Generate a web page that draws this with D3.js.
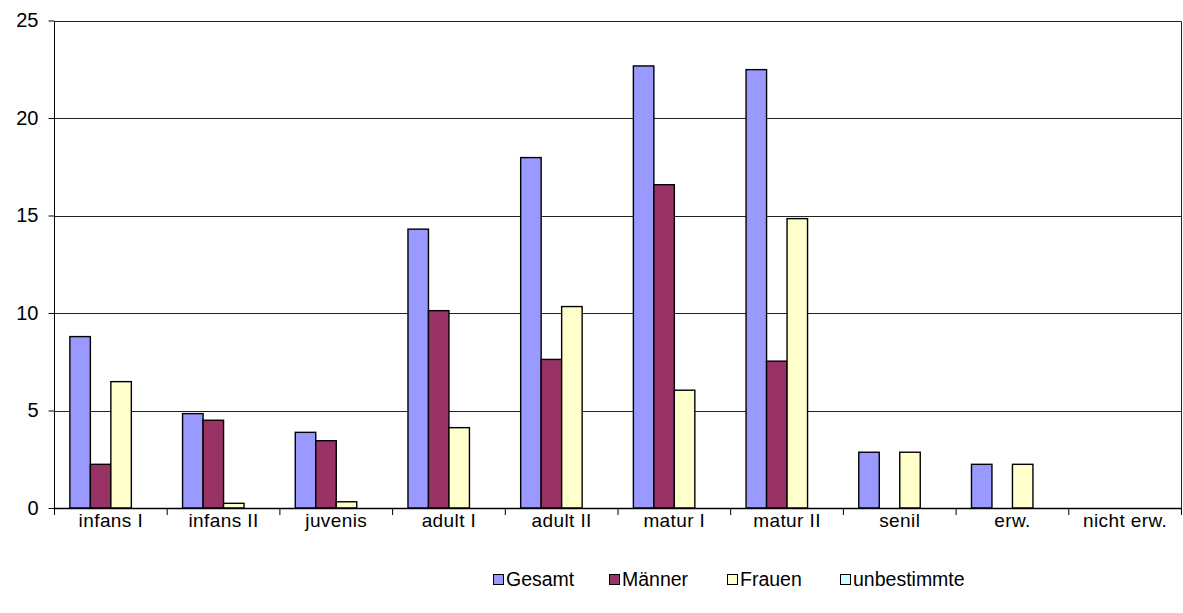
<!DOCTYPE html>
<html>
<head>
<meta charset="utf-8">
<script src="https://cdn.jsdelivr.net/npm/d3@7/dist/d3.min.js"></script>
<style>
  html, body { margin: 0; padding: 0; background: #fff; }
  svg { display: block; font-family: "Liberation Sans", Arial, sans-serif; }
</style>
</head>
<body>
<svg id="chart" width="1183" height="613"></svg>
<script>
// Altersklassen (Kategorien)
const categories = ["infans I", "infans II", "juvenis", "adult I", "adult II",
                    "matur I", "matur II", "senil", "erw.", "nicht erw."];
// Serien
const seriesNames = ["Gesamt", "Männer", "Frauen", "unbestimmte"];
const gesamt      = [8.79, 4.84, 3.88, 14.30, 17.97, 22.67, 22.48, 2.86, 2.24, 0];
const maenner     = [2.24, 4.50, 3.45, 10.12, 7.62, 16.58, 7.53, 0, 0, 0];
const frauen      = [6.48, 0.24, 0.32, 4.12, 10.33, 6.04, 14.84, 2.86, 2.24, 0];
const unbestimmte = [0, 0, 0, 0, 0, 0, 0, 0, 0, 0];
const yTicks = [0, 5, 10, 15, 20, 25];
const colors = ["#9999FF", "#993366", "#FFFFCC", "#CCFFFF"];

const seriesValues = [gesamt, maenner, frauen, unbestimmte];

const svg = d3.select("#chart");
const plot = { left: 54.5, right: 1181.5, top: 20.5, bottom: 508 };

const x = d3.scaleBand().domain(categories).range([plot.left, plot.right])
  .paddingInner(0).paddingOuter(0);
const xs = d3.scaleBand().domain(seriesNames).range([0, x.bandwidth()])
  .paddingInner(0).paddingOuter(0.75);
const y = d3.scaleLinear().domain([0, 25]).range([plot.bottom, plot.top]);

// Gitternetzlinien
svg.append("g").selectAll("line").data(yTicks.filter(d => d > 0)).join("line")
  .attr("x1", plot.left).attr("x2", plot.right)
  .attr("y1", d => Math.round(y(d)) + 0.5).attr("y2", d => Math.round(y(d)) + 0.5)
  .attr("stroke", "#222").attr("stroke-width", 1);

// Rechter Rahmen
svg.append("line")
  .attr("x1", plot.right).attr("x2", plot.right)
  .attr("y1", Math.round(y(25)) + 0.5).attr("y2", plot.bottom)
  .attr("stroke", "#222").attr("stroke-width", 1);

// Balken
const rows = categories.map((c, i) => ({ cat: c, vals: seriesValues.map((s, k) => ({ name: seriesNames[k], v: s[i], k })) }));
const groups = svg.append("g").selectAll("g").data(rows).join("g")
  .attr("transform", d => `translate(${x(d.cat)},0)`);
groups.selectAll("rect").data(d => d.vals.filter(e => e.v > 0)).join("rect")
  .attr("x", d => xs(d.name))
  .attr("y", d => y(d.v))
  .attr("width", xs.bandwidth())
  .attr("height", d => plot.bottom - y(d.v))
  .attr("fill", d => colors[d.k])
  .attr("stroke", "#000")
  .attr("stroke-width", 1.4);

// Y-Achse
const yAxis = d3.axisLeft(y).tickValues(yTicks).tickSize(6).tickPadding(10).tickFormat(d3.format("d"));
const gy = svg.append("g").attr("transform", `translate(${plot.left},0)`).call(yAxis);
gy.select(".domain").attr("stroke", "#000").attr("d", `M0,${plot.bottom}V${Math.round(y(25)) + 0.5}`);
gy.selectAll(".tick line").attr("stroke", "#000").attr("x1", -6).attr("x2", 0);
gy.selectAll(".tick text").attr("font-size", 20).attr("fill", "#000")
  .attr("x", -16)
  .attr("font-family", "Liberation Sans, Arial, sans-serif");

// X-Achse mit Teilstrichen an den Kategoriegrenzen
const gx = svg.append("g").attr("transform", `translate(0,${plot.bottom})`);
gx.append("line").attr("x1", plot.left).attr("x2", plot.right)
  .attr("y1", 0.5).attr("y2", 0.5).attr("stroke", "#000").attr("stroke-width", 1.3);
const bounds = categories.map(c => x(c)).concat([plot.right]);
gx.selectAll("line.tk").data(bounds).join("line").attr("class", "tk")
  .attr("x1", d => d).attr("x2", d => d).attr("y1", 0).attr("y2", 7)
  .attr("stroke", "#000");
gx.selectAll("text").data(categories).join("text")
  .attr("x", d => x(d) + x.bandwidth() / 2)
  .attr("y", 19)
  .attr("text-anchor", "middle")
  .attr("font-size", 19)
  .attr("letter-spacing", 0.4)
  .attr("fill", "#000")
  .text(d => d);

// Legende
const legendX = [493, 609, 727, 840];
const lg = svg.append("g").selectAll("g").data(seriesNames).join("g")
  .attr("transform", (d, i) => `translate(${legendX[i]},578)`);
lg.append("rect").attr("x", 0.5).attr("y", -3.5).attr("width", 10).attr("height", 10)
  .attr("fill", (d, i) => colors[i]).attr("stroke", "#000").attr("stroke-width", 1);
lg.append("text").attr("x", 13).attr("y", 8).attr("font-size", 19.5).attr("fill", "#000")
  .text(d => d);
</script>
</body>
</html>
